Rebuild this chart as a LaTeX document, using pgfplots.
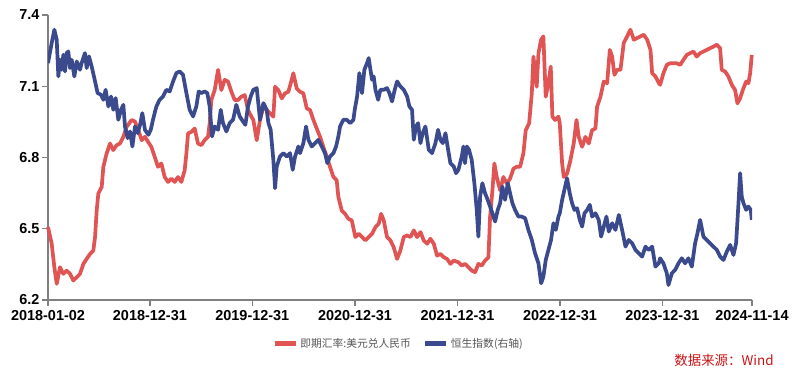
\documentclass[border=0pt]{standalone}
\usepackage{pgfplots}
\pgfplotsset{compat=1.18}
\usepackage{pgfplotstable}
\usepackage{fontspec}
\setmainfont{Liberation Sans}
\newfontfamily\cjk{Noto Sans CJK SC}
\definecolor{cnyred}{RGB}{224,84,84}
\definecolor{hsiblue}{RGB}{58,74,140}
\definecolor{axgray}{RGB}{128,128,128}
\definecolor{leggray}{RGB}{85,85,85}
\definecolor{srcred}{RGB}{200,20,20}

% USD/CNY spot (left axis); x = years since 2018-01-02
\pgfplotstableread{
t v
0.000 6.507
0.036 6.437
0.062 6.338
0.085 6.268
0.117 6.338
0.150 6.310
0.182 6.324
0.215 6.310
0.247 6.282
0.280 6.296
0.312 6.310
0.345 6.352
0.377 6.373
0.410 6.394
0.442 6.408
0.459 6.465
0.475 6.577
0.491 6.648
0.524 6.676
0.540 6.761
0.572 6.817
0.605 6.859
0.637 6.831
0.670 6.852
0.702 6.859
0.735 6.887
0.767 6.929
0.816 6.958
0.849 6.951
0.881 6.915
0.914 6.873
0.946 6.887
0.976 6.866
1.008 6.845
1.041 6.803
1.073 6.761
1.106 6.775
1.138 6.718
1.171 6.697
1.203 6.711
1.236 6.697
1.268 6.718
1.301 6.697
1.333 6.746
1.350 6.817
1.366 6.901
1.398 6.908
1.431 6.922
1.463 6.859
1.496 6.852
1.528 6.873
1.561 6.887
1.577 6.944
1.593 7.042
1.626 7.084
1.659 7.169
1.691 7.084
1.724 7.127
1.756 7.120
1.789 7.077
1.821 7.042
1.854 7.042
1.886 7.056
1.919 7.063
1.951 7.000
1.984 6.972
2.003 6.958
2.036 6.873
2.068 6.958
2.101 7.014
2.133 7.000
2.166 6.986
2.198 6.972
2.215 7.098
2.247 7.084
2.280 7.049
2.312 7.070
2.345 7.077
2.377 7.127
2.393 7.155
2.426 7.091
2.458 7.077
2.491 7.070
2.524 7.007
2.556 7.000
2.589 6.958
2.621 6.922
2.654 6.887
2.686 6.845
2.719 6.803
2.751 6.761
2.784 6.718
2.816 6.704
2.832 6.634
2.865 6.577
2.897 6.563
2.930 6.542
2.963 6.535
2.998 6.465
3.031 6.479
3.063 6.465
3.096 6.451
3.128 6.465
3.161 6.479
3.194 6.507
3.226 6.521
3.249 6.563
3.275 6.535
3.307 6.465
3.340 6.451
3.372 6.422
3.405 6.373
3.437 6.408
3.470 6.465
3.503 6.472
3.535 6.465
3.568 6.493
3.600 6.465
3.633 6.486
3.665 6.451
3.698 6.437
3.730 6.458
3.763 6.437
3.795 6.387
3.828 6.394
3.860 6.380
3.893 6.373
3.925 6.352
3.958 6.366
4.003 6.359
4.036 6.345
4.068 6.352
4.101 6.338
4.133 6.324
4.166 6.317
4.198 6.352
4.231 6.345
4.263 6.366
4.296 6.380
4.312 6.549
4.335 6.662
4.354 6.775
4.377 6.718
4.410 6.662
4.442 6.718
4.475 6.690
4.507 6.711
4.540 6.753
4.572 6.761
4.605 6.761
4.637 6.817
4.660 6.915
4.693 6.944
4.719 7.070
4.735 7.225
4.767 7.098
4.784 7.239
4.810 7.296
4.832 7.310
4.855 7.056
4.881 7.113
4.904 7.183
4.920 6.972
4.946 6.958
4.979 6.972
4.992 6.944
5.015 6.775
5.031 6.718
5.063 6.732
5.096 6.789
5.128 6.859
5.155 6.958
5.177 6.887
5.210 6.845
5.242 6.887
5.275 6.859
5.307 6.915
5.340 6.922
5.356 7.014
5.389 7.056
5.421 7.120
5.454 7.113
5.480 7.253
5.503 7.225
5.525 7.148
5.551 7.169
5.584 7.169
5.616 7.282
5.649 7.310
5.681 7.338
5.714 7.296
5.746 7.303
5.779 7.310
5.811 7.317
5.844 7.296
5.877 7.253
5.893 7.155
5.925 7.141
5.958 7.113
5.971 7.106
6.003 7.155
6.036 7.190
6.068 7.197
6.101 7.197
6.133 7.197
6.166 7.190
6.198 7.211
6.231 7.232
6.263 7.239
6.296 7.246
6.328 7.225
6.361 7.239
6.393 7.246
6.426 7.253
6.458 7.260
6.491 7.267
6.524 7.275
6.556 7.260
6.572 7.169
6.605 7.162
6.637 7.141
6.670 7.106
6.702 7.084
6.725 7.028
6.751 7.049
6.777 7.084
6.810 7.120
6.832 7.113
6.849 7.155
6.865 7.232
}\cnydata

% Hang Seng Index (right axis)
\pgfplotstableread{
t v
0.000 30654
0.036 32069
0.062 33013
0.085 32305
0.101 29711
0.117 30890
0.133 30182
0.150 31243
0.166 30064
0.182 31362
0.198 31479
0.215 30301
0.231 30890
0.257 29711
0.280 30772
0.312 30182
0.328 30654
0.361 31362
0.377 30301
0.400 31126
0.426 30418
0.459 29357
0.484 28531
0.517 28413
0.540 28060
0.562 28767
0.589 27588
0.615 28295
0.637 27352
0.660 28177
0.686 26644
0.712 27352
0.735 27706
0.751 26173
0.777 25347
0.800 25819
0.823 24757
0.849 26173
0.875 25701
0.898 26290
0.920 27116
0.946 25937
0.979 25583
1.002 25937
1.024 26644
1.057 27588
1.089 28060
1.122 28295
1.154 28767
1.187 28649
1.220 29357
1.252 29946
1.285 30064
1.317 29829
1.350 28531
1.382 27352
1.415 26880
1.447 27588
1.470 28649
1.496 28531
1.528 28649
1.554 28531
1.577 27588
1.600 25465
1.626 26173
1.659 25937
1.685 27352
1.707 26408
1.740 25819
1.772 26408
1.805 26644
1.837 27706
1.870 26880
1.902 26526
1.925 26290
1.951 27588
1.977 28295
2.003 28767
2.036 28885
2.068 26644
2.101 27824
2.133 27352
2.150 26408
2.172 25937
2.198 23814
2.215 21809
2.231 23342
2.263 24050
2.296 24286
2.328 24050
2.361 24286
2.387 23106
2.410 24050
2.442 24757
2.458 24286
2.491 24993
2.517 26173
2.540 25229
2.572 24757
2.605 24993
2.637 25229
2.670 24757
2.702 24286
2.725 23578
2.751 24050
2.784 24286
2.810 24757
2.832 25465
2.849 26173
2.881 26644
2.914 26644
2.946 26408
2.979 26644
2.992 27352
3.015 28295
3.037 29946
3.063 28531
3.086 30182
3.112 30654
3.128 31008
3.145 30182
3.161 29475
3.177 29711
3.194 28767
3.220 28060
3.242 28767
3.275 28767
3.307 28885
3.330 28531
3.356 27942
3.382 28767
3.405 29357
3.437 29003
3.470 28767
3.503 28295
3.525 27588
3.551 27352
3.568 25229
3.590 26173
3.610 26408
3.633 24993
3.655 25701
3.681 26173
3.714 24521
3.746 24286
3.779 24993
3.805 25937
3.828 25229
3.851 24993
3.877 25701
3.903 24521
3.925 23578
3.958 23342
3.980 22870
4.003 23106
4.036 24050
4.052 24757
4.068 23578
4.085 24757
4.107 24521
4.133 23814
4.159 22163
4.182 20276
4.198 18389
4.215 21219
4.237 22163
4.263 21455
4.289 20984
4.312 20512
4.335 20040
4.361 19450
4.387 20276
4.410 20748
4.432 21927
4.458 20984
4.485 22163
4.507 21455
4.530 20748
4.556 20276
4.589 19804
4.621 19804
4.654 19686
4.686 18861
4.719 18153
4.751 17210
4.784 16502
4.810 15087
4.832 15558
4.855 16738
4.881 17445
4.907 18153
4.930 19332
4.953 18861
4.979 19804
4.992 20040
5.015 20984
5.037 21691
5.063 22517
5.089 21455
5.112 20748
5.135 20276
5.161 20394
5.187 19568
5.210 19096
5.233 20040
5.259 20276
5.285 20630
5.307 19804
5.340 20040
5.372 19568
5.395 18389
5.421 19096
5.447 19804
5.470 18743
5.503 19332
5.535 18861
5.568 19922
5.600 18861
5.633 17681
5.665 18153
5.698 17917
5.730 17445
5.763 17210
5.795 16974
5.828 17681
5.860 17445
5.893 17681
5.925 16266
5.958 16502
5.971 16856
6.003 16502
6.036 15794
6.052 14969
6.085 15794
6.117 16030
6.150 16502
6.182 16856
6.215 16502
6.247 16856
6.280 16266
6.312 17917
6.335 18625
6.361 19568
6.393 18389
6.426 18153
6.458 17917
6.491 17681
6.524 17445
6.556 16974
6.589 16738
6.621 17328
6.654 17799
6.686 17092
6.712 17917
6.735 20748
6.751 22870
6.767 21219
6.784 20748
6.810 20276
6.832 20512
6.855 20276
6.865 19568
}\hsidata

\begin{document}
\begin{tikzpicture}
\useasboundingbox (-48bp,-79bp) rectangle (752bp,300bp);
\begin{axis}[
  at={(0,0)}, anchor=south west,
  scale only axis, width=704bp, height=285bp,
  xmin=0, xmax=6.867, ymin=6.2, ymax=7.4,
  axis x line*=bottom, axis y line*=left,
  axis line style={axgray, line width=1.2bp, -},
  tick style={axgray, line width=1.2bp},
  tick align=outside, major tick length=6bp,
  xtick={0,0.994,1.993,2.995,3.995,4.994,5.993,6.867},
  xticklabels={2018-01-02,2018-12-31,2019-12-31,2020-12-31,2021-12-31,2022-12-31,2023-12-31,2024-11-14},
  ytick={6.2,6.5,6.8,7.1,7.4},
  yticklabels={6.2,6.5,6.8,7.1,7.4},
  ticklabel style={font=\bfseries\fontsize{14.5}{17}\selectfont, text=black},
  xticklabel style={yshift=-1bp},
  yticklabel style={xshift=1bp},
  clip=false,
]
\addplot[cnyred, line width=3.7bp, line join=round] table[x=t,y=v]{\cnydata};
\end{axis}
\begin{axis}[
  at={(0,0)}, anchor=south west,
  scale only axis, width=704bp, height=285bp,
  xmin=0, xmax=6.867, ymin=13907, ymax=34053,
  hide axis,
  legend columns=2,
  legend style={at={(0.498,-0.154)}, anchor=center, draw=none, fill=none,
    font=\cjk\fontsize{10.8}{12}\selectfont, text=leggray,
    /tikz/every even column/.append style={column sep=10bp},
    inner sep=0pt},
  legend image code/.code={\draw[#1, line width=5bp] (0bp,0bp) -- (21bp,0bp);},
]
\addlegendimage{cnyred}
\addlegendentry{即期汇率:美元兑人民币}
\addplot[hsiblue, line width=3.7bp, line join=round] table[x=t,y=v]{\hsidata};
\addlegendentry{恒生指数(右轴)}
\end{axis}
\node[anchor=center, text=srcred, font=\cjk\fontsize{13.5}{16}\selectfont] at (676bp,-60bp) {数据来源：Wind};
\end{tikzpicture}
\end{document}
